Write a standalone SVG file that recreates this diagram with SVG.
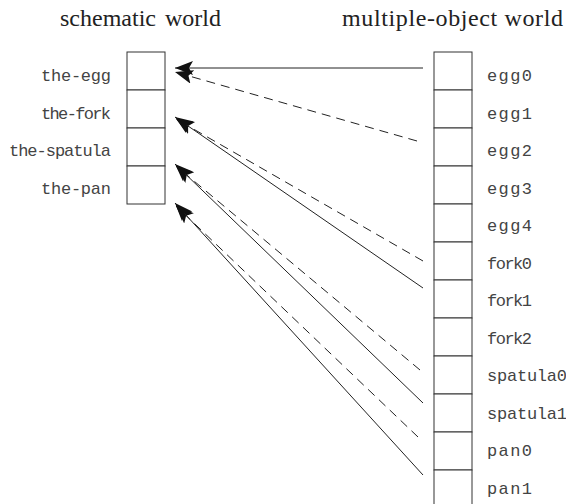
<svg xmlns="http://www.w3.org/2000/svg" width="566" height="504" viewBox="0 0 566 504">
<style>
.title{font-family:"Liberation Serif","Times New Roman",serif;font-size:24px;fill:#222}
.lbl{font-family:"Liberation Mono","Courier New",monospace;font-size:17px;fill:#444}
.cell{fill:#fff;stroke:#333;stroke-width:1}
.solid{stroke:#222;stroke-width:1;fill:none;marker-end:url(#ah)}
.dash{stroke:#222;stroke-width:1;fill:none;stroke-dasharray:9 6;marker-end:url(#ah)}
</style>
<defs>
<marker id="ah" markerUnits="userSpaceOnUse" markerWidth="20" markerHeight="16" refX="18" refY="7" orient="auto">
<path d="M0,0 L18,7 L0,14 L4,7 z" fill="#111"/>
</marker>
</defs>
<rect width="566" height="504" fill="#fff"/>
<text class="title" x="60" y="26" word-spacing="3">schematic world</text>
<text class="title" x="342" y="26" textLength="221">multiple-object world</text>

<g id="schematic">
<g id="the-egg"><rect class="cell" x="127" y="52" width="38" height="38"/><text class="lbl" x="111" y="81" text-anchor="end" textLength="70">the-egg</text></g>
<g id="the-fork"><rect class="cell" x="127" y="90" width="38" height="38"/><text class="lbl" x="111" y="118.5" text-anchor="end" textLength="70">the-fork</text></g>
<g id="the-spatula"><rect class="cell" x="127" y="128" width="38" height="38"/><text class="lbl" x="111" y="156" text-anchor="end" textLength="102">the-spatula</text></g>
<g id="the-pan"><rect class="cell" x="127" y="166" width="38" height="38"/><text class="lbl" x="111" y="193.5" text-anchor="end" textLength="70">the-pan</text></g>
</g>

<g id="multiple">
<g id="egg0"><rect class="cell" x="434" y="52" width="38" height="38"/><text class="lbl" x="487" y="81" textLength="45">egg0</text></g>
<g id="egg1"><rect class="cell" x="434" y="90" width="38" height="38"/><text class="lbl" x="487" y="118.5" textLength="45">egg1</text></g>
<g id="egg2"><rect class="cell" x="434" y="128" width="38" height="38"/><text class="lbl" x="487" y="156" textLength="45">egg2</text></g>
<g id="egg3"><rect class="cell" x="434" y="166" width="38" height="38"/><text class="lbl" x="487" y="193.5" textLength="45">egg3</text></g>
<g id="egg4"><rect class="cell" x="434" y="204" width="38" height="38"/><text class="lbl" x="487" y="231" textLength="45">egg4</text></g>
<g id="fork0"><rect class="cell" x="434" y="242" width="38" height="38"/><text class="lbl" x="487" y="268.5" textLength="45">fork0</text></g>
<g id="fork1"><rect class="cell" x="434" y="280" width="38" height="38"/><text class="lbl" x="487" y="306" textLength="45">fork1</text></g>
<g id="fork2"><rect class="cell" x="434" y="318" width="38" height="38"/><text class="lbl" x="487" y="343.5" textLength="45">fork2</text></g>
<g id="spatula0"><rect class="cell" x="434" y="356" width="38" height="38"/><text class="lbl" x="487" y="381" textLength="80">spatula0</text></g>
<g id="spatula1"><rect class="cell" x="434" y="394" width="38" height="38"/><text class="lbl" x="487" y="418.5" textLength="80">spatula1</text></g>
<g id="pan0"><rect class="cell" x="434" y="432" width="38" height="38"/><text class="lbl" x="487" y="456" textLength="45">pan0</text></g>
<g id="pan1"><rect class="cell" x="434" y="470" width="38" height="40"/><text class="lbl" x="487" y="493.5" textLength="45">pan1</text></g>
</g>

<g id="connectors">
<line class="solid" x1="423" y1="68" x2="175" y2="68"/>
<line class="dash" x1="417" y1="141" x2="175" y2="72"/>
<line class="dash" x1="423" y1="261" x2="176" y2="119"/>
<line class="solid" x1="423" y1="288" x2="175" y2="117"/>
<line class="dash" x1="420" y1="370" x2="176" y2="166"/>
<line class="solid" x1="423" y1="403" x2="175" y2="164"/>
<line class="dash" x1="418" y1="437" x2="176" y2="206"/>
<line class="solid" x1="423" y1="475" x2="175" y2="203"/>
</g>
</svg>
